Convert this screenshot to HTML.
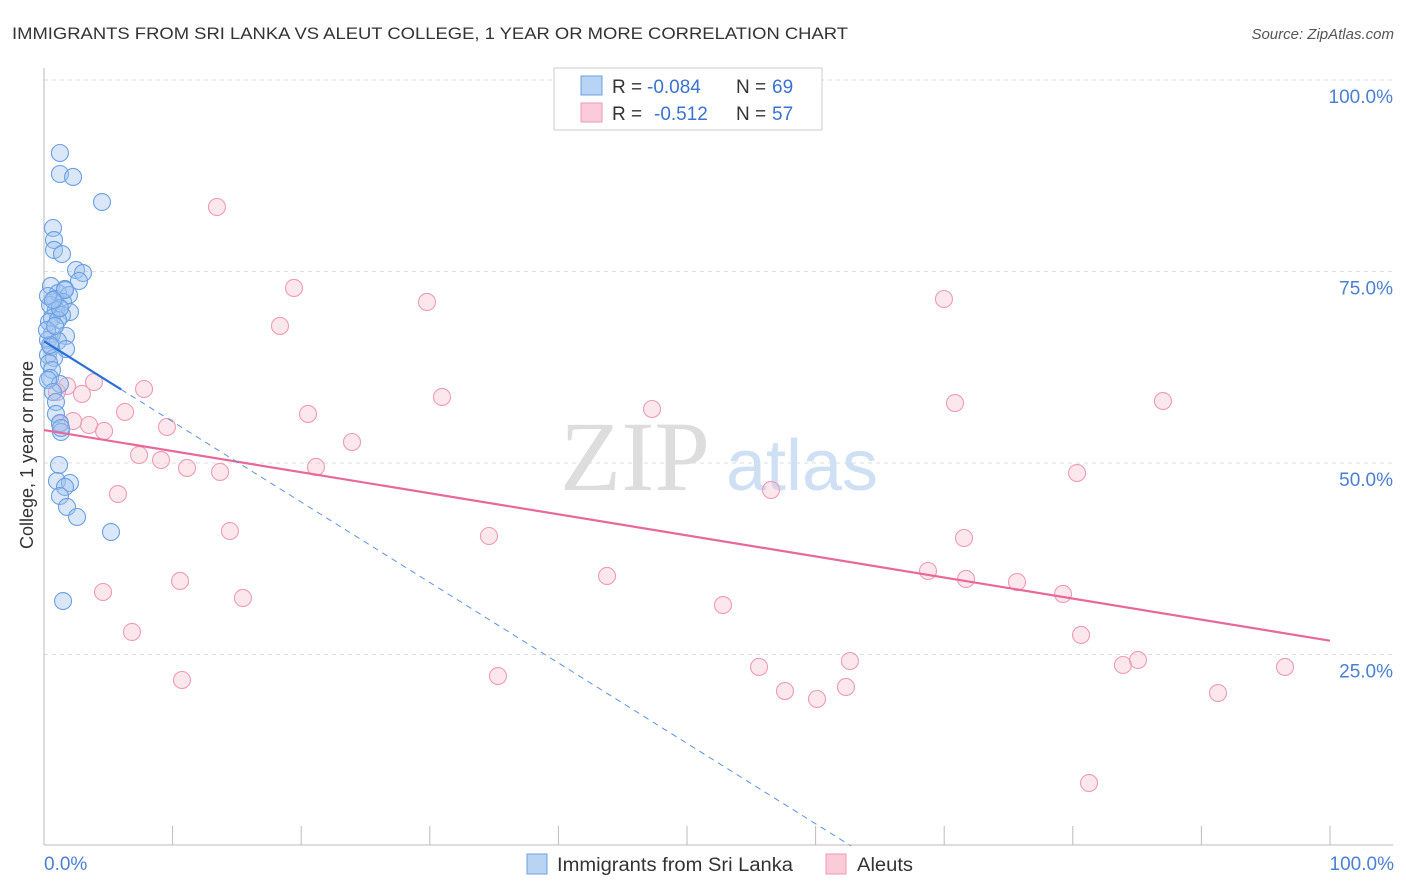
<!DOCTYPE html>
<html><head><meta charset="utf-8"><style>
body{margin:0;background:#fff;font-family:"Liberation Sans",sans-serif;}
svg{display:block}
</style></head><body>
<svg id="chart" width="1406" height="892">
<text x="12" y="39" font-size="17" fill="#333" textLength="836" lengthAdjust="spacingAndGlyphs">IMMIGRANTS FROM SRI LANKA VS ALEUT COLLEGE, 1 YEAR OR MORE CORRELATION CHART</text>
<text x="1394" y="39" font-size="15" fill="#555" font-style="italic" text-anchor="end">Source: ZipAtlas.com</text>
<g id="grid"></g>
<text x="635" y="490" font-size="100" fill="#ddd" font-family="Liberation Serif" text-anchor="middle">ZIP</text>
<text x="802" y="490" font-size="72" fill="#cfe0f5" text-anchor="middle">atlas</text>
<g id="marks"></g>
<text transform="translate(33,455) rotate(-90)" font-size="18" fill="#333" text-anchor="middle">College, 1 year or more</text>
<text x="44" y="870" font-size="19" fill="#4a7fd4">0.0%</text>
<text x="1394" y="870" font-size="19" fill="#4a7fd4" text-anchor="end">100.0%</text>
<g>
<rect x="554" y="68" width="268" height="62" fill="#fff" stroke="#ccc"/>
<rect x="581" y="76" width="21" height="19" fill="#b9d3f5" stroke="#6d9fe0"/>
<rect x="581" y="103" width="21" height="19" fill="#fbcbd9" stroke="#ee9ab4"/>
<text y="93" font-size="19" fill="#333"><tspan x="612">R =</tspan><tspan x="647" fill="#3a72d0">-0.084</tspan><tspan x="736">N =</tspan><tspan x="772" fill="#3a72d0">69</tspan></text>
<text y="120" font-size="19" fill="#333"><tspan x="612">R =</tspan><tspan x="654" fill="#3a72d0">-0.512</tspan><tspan x="736">N =</tspan><tspan x="772" fill="#3a72d0">57</tspan></text>
</g>
<g>
<rect x="527" y="854" width="20" height="20" fill="#b9d3f5" stroke="#6d9fe0"/>
<text x="557" y="871" font-size="19" fill="#333" textLength="236" lengthAdjust="spacingAndGlyphs">Immigrants from Sri Lanka</text>
<rect x="826" y="854" width="20" height="20" fill="#fbcbd9" stroke="#ee9ab4"/>
<text x="857" y="871" font-size="19" fill="#333" textLength="56" lengthAdjust="spacingAndGlyphs">Aleuts</text>
</g>
</svg>
<script>
const yTicks=[25,50,75,100];
const yTickLabels=["25.0%","50.0%","75.0%","100.0%"];
const bluePx=[[60,153],[60,174],[73,177],[102,202],[53,228],[54,240],[54,250],[62,254],[76,270],[83,273],[79,281],[51,286],[65,289],[58,293],[69,295],[55,299],[63,302],[50,305],[70,312],[56,310],[62,315],[52,318],[49,322],[58,320],[66,336],[52,334],[48,340],[58,341],[66,349],[51,347],[48,355],[54,358],[49,363],[52,370],[50,378],[60,384],[48,380],[53,392],[56,402],[56,414],[60,423],[61,432],[61,428],[59,465],[57,481],[70,483],[65,487],[60,496],[67,507],[77,517],[111,532],[63,601],[50,345],[47,330],[55,326],[60,308],[65,290],[48,296],[53,300]];
const pinkPx=[[217,207],[294,288],[280,326],[427,302],[944,299],[144,389],[94,382],[67,386],[82,394],[57,392],[125,412],[167,427],[308,414],[442,397],[652,409],[955,403],[1163,401],[89,425],[104,431],[60,424],[73,421],[139,455],[161,460],[187,468],[220,472],[316,467],[352,442],[118,494],[771,490],[1077,473],[230,531],[489,536],[964,538],[180,581],[103,592],[243,598],[607,576],[723,605],[928,571],[966,579],[1017,582],[1063,594],[132,632],[182,680],[498,676],[759,667],[785,691],[817,699],[846,687],[850,661],[1081,635],[1123,665],[1138,660],[1218,693],[1285,667],[1089,783]];
const blueX=bluePx.map(p=>+((p[0]-44)/12.86).toFixed(2));
const blueY=bluePx.map(p=>+((846-p[1])/7.66).toFixed(2));
const pinkX=pinkPx.map(p=>+((p[0]-44)/12.86).toFixed(2));
const pinkY=pinkPx.map(p=>+((846-p[1])/7.66).toFixed(2));
const blueTrend=[65.9,-1.05];
const pinkTrend=[54.3,-0.275];
const X=v=>44+v*12.86, Y=v=>846-v*7.66;
const NS="http://www.w3.org/2000/svg";
function mk(t,a,parent){const e=document.createElementNS(NS,t);for(const k in a)e.setAttribute(k,a[k]);parent.appendChild(e);return e;}
const grid=document.getElementById('grid'),marks=document.getElementById('marks');
yTicks.forEach((t,i)=>{
 const l=mk('line',{x1:44,x2:1393,y1:Y(t),y2:Y(t),stroke:'#ddd','stroke-dasharray':'4,4'},grid);
 
 
 const tx=mk('text',{x:1393,y:Y(t)+23,'font-size':19,fill:'#4a7fd4','text-anchor':'end'},grid);
 tx.textContent=yTickLabels[i];
 
 
});
const ax=mk('line',{x1:44,x2:1393,y1:845,y2:845,stroke:'#bbb'},grid);


const ay=mk('line',{x1:44,x2:44,y1:68,y2:845,stroke:'#bbb'},grid);


for(let k=0;k<=10;k++){const t=mk('line',{x1:X(k*10),x2:X(k*10),y1:826,y2:845,stroke:'#bbb'},grid);
 
 }
pinkX.forEach((x,i)=>{const c=mk('circle',{cx:X(x),cy:Y(pinkY[i]),r:8.5,fill:'#f7b9cc','fill-opacity':0.35,stroke:'#ee9ab4','stroke-width':1.1},marks);
 
 });
blueX.forEach((x,i)=>{const c=mk('circle',{cx:X(x),cy:Y(blueY[i]),r:8.5,fill:'#9fc2f0','fill-opacity':0.4,stroke:'#6a9fe2','stroke-width':1.1},marks);
 
 });
const pl=mk('line',{x1:X(0),y1:Y(pinkTrend[0]),x2:X(100),y2:Y(pinkTrend[0]+pinkTrend[1]*100),stroke:'#e8689a','stroke-width':2.2},marks);


const xe=-blueTrend[0]/blueTrend[1];
const bs=mk('line',{x1:X(0),y1:Y(blueTrend[0]),x2:X(6),y2:Y(blueTrend[0]+blueTrend[1]*6),stroke:'#2a6fd6','stroke-width':2.2},marks);


const bd=mk('line',{x1:X(6),y1:Y(blueTrend[0]+blueTrend[1]*6),x2:X(xe),y2:Y(0),stroke:'#5b93dd','stroke-width':1,'stroke-dasharray':'6,5'},marks);


</script>
</body></html>
